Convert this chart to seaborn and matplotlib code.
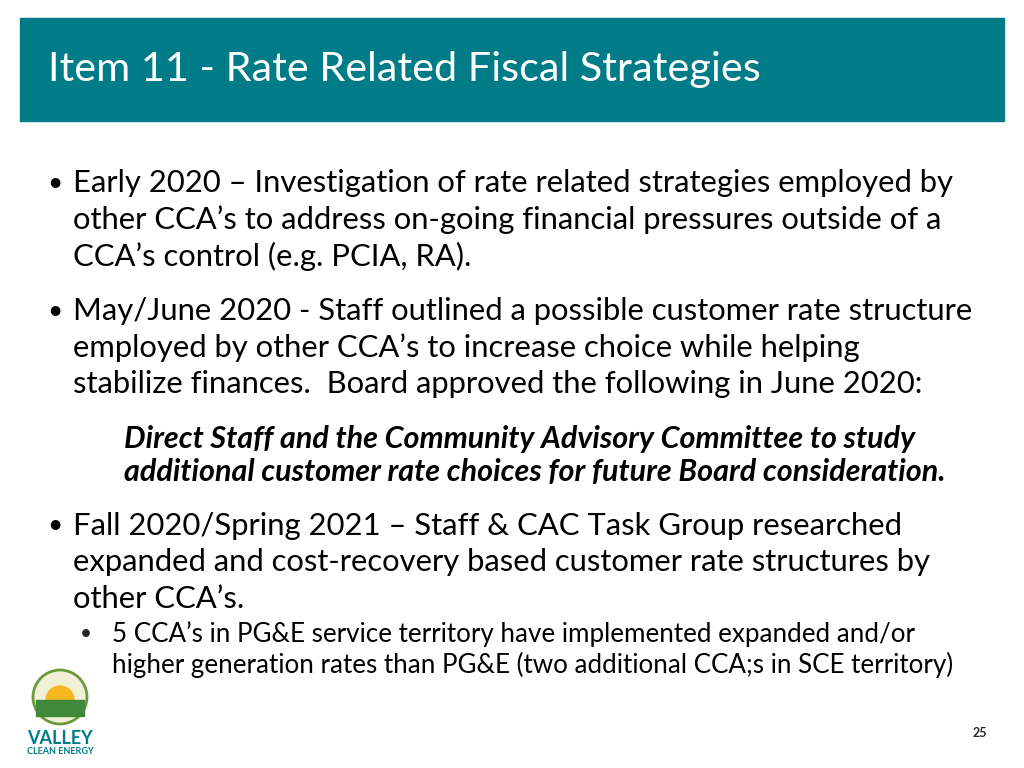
"""Slide: Item 11 - Rate Related Fiscal Strategies."""
import matplotlib
matplotlib.use("Agg")
import matplotlib.pyplot as plt
import matplotlib.patches as mpatches
import seaborn as sns

sns.set_theme(style="white", font="Lato")

TITLE = "Item 11 - Rate Related Fiscal Strategies"
BULLET_LINES = [
    ["Early 2020 \u2013 Investigation of rate related strategies employed by",
     "other CCA\u2019s to address on-going financial pressures outside of a",
     "CCA\u2019s control (e.g. PCIA, RA)."],
    ["May/June 2020 - Staff outlined a possible customer rate structure",
     "employed by other CCA\u2019s to increase choice while helping",
     "stabilize finances.  Board approved the following in June 2020:"],
    ["Fall 2020/Spring 2021 \u2013 Staff & CAC Task Group researched",
     "expanded and cost-recovery based customer rate structures by",
     "other CCA\u2019s."],
]
BULLET_Y = [183, 311, 526]
QUOTE_LINES = ["Direct Staff and the Community Advisory Committee to study",
               "additional customer rate choices for future Board consideration."]
SUB_LINES = ["5 CCA\u2019s in PG&E service territory have implemented expanded and/or",
             "higher generation rates than PG&E (two additional CCA;s in SCE territory)"]
PAGE = "25"

TEAL = "#007C89"
W, H = 1024, 768

fig = plt.figure(figsize=(10.24, 7.68), dpi=100)
ax = fig.add_axes([0, 0, 1, 1])
ax.set_xlim(0, W)
ax.set_ylim(H, 0)
ax.axis("off")

# header band
ax.add_patch(mpatches.Rectangle((20, 18), 984, 103, color=TEAL))
ax.text(48, 69, TITLE, color="white", fontsize=29.8, ha="left", va="center")

# main bullets
LINE_H = 36.5
for lines, y0 in zip(BULLET_LINES, BULLET_Y):
    ax.text(47, y0, "\u2022", fontsize=19, ha="left", va="center", color="black")
    for i, line in enumerate(lines):
        ax.text(73, y0 + i * LINE_H, line, fontsize=22.3, ha="left",
                va="center", color="black")

# quoted board direction
for i, line in enumerate(QUOTE_LINES):
    ax.text(124, 439 + i * 33, line, fontsize=22, fontweight="bold",
            style="italic", ha="left", va="center", color="black")

# sub-bullet
ax.text(80, 634, "\u2022", fontsize=15, ha="left", va="center")
for i, line in enumerate(SUB_LINES):
    ax.text(112, 634 + i * 31, line, fontsize=18.7, ha="left", va="center",
            color="black")

# logo
ax.add_patch(mpatches.Circle((60, 697), 27, facecolor="#f3f0d8",
                             edgecolor="#6a9a3a", lw=2))
ax.add_patch(mpatches.Wedge((60, 700), 14, 180, 360, color="#f5b820"))
ax.add_patch(mpatches.Rectangle((36, 700), 48, 16, color="#3f8a3a"))
ax.text(60, 738, "VALLEY", fontsize=13, fontweight="bold", color=TEAL,
        ha="center", va="center")
ax.text(60, 752, "CLEAN ENERGY", fontsize=6.5, fontweight="bold", color=TEAL,
        ha="center", va="center")

ax.text(980, 733, PAGE, fontsize=9, fontweight="bold", ha="center", va="center")

fig.savefig("out.png", dpi=100)
plt.close(fig)
